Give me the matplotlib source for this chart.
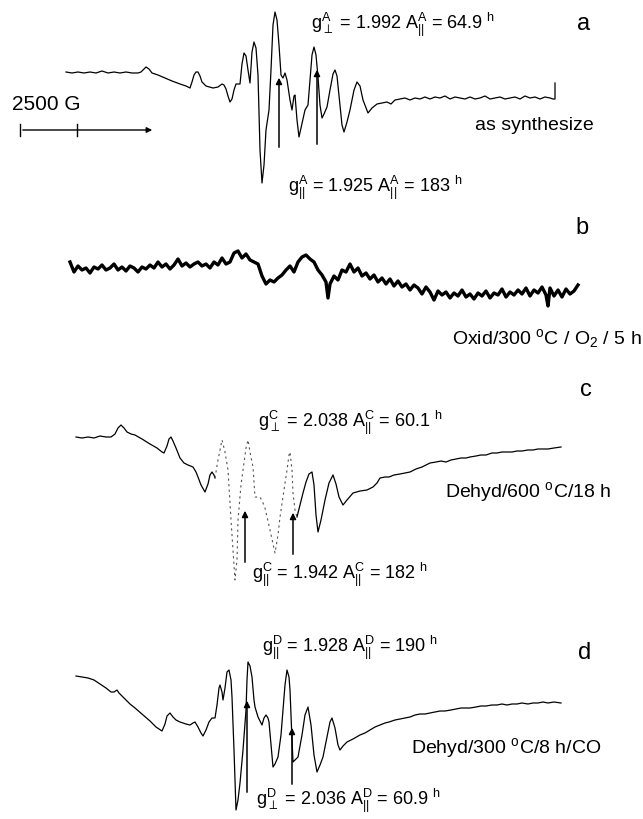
import matplotlib.pyplot as plt

plt.rcParams['font.family'] = ['Liberation Sans', 'DejaVu Sans']
plt.rcParams['mathtext.fontset'] = 'custom'
plt.rcParams['mathtext.rm'] = 'Liberation Sans'
plt.rcParams['mathtext.it'] = 'Liberation Sans'

# spectrum traces (field axis in scan px, signal in scan px, y down)
a_x = [66, 72, 78, 84, 90, 96, 102, 108, 114, 120, 126, 132, 138, 141, 143, 146, 149, 152, 158, 165,
       172, 180, 186, 190, 192, 194, 196, 198, 200, 202, 206, 213, 218, 222, 224, 226, 228, 230, 232, 234,
       236, 238, 240, 242, 244, 246, 248, 250, 252, 254, 256, 258, 260, 262, 264, 266, 269, 271, 273, 275,
       277, 279, 281, 283, 285, 287, 290, 292, 294, 295, 297, 299, 301, 305, 308, 310, 312, 314, 316, 318,
       320, 322, 324, 327, 330, 333, 335, 337, 340, 342, 344, 347, 350, 354, 357, 360, 363, 368, 372, 377,
       382, 387, 391, 395, 400, 405, 410, 415, 420, 425, 430, 435, 440, 445, 450, 455, 460, 465, 470, 475,
       480, 485, 490, 495, 500, 505, 510, 515, 520, 525, 530, 535, 540, 545, 550, 553, 555, 555]
a_y = [72, 73, 72, 73, 72, 73, 71, 73, 72, 73, 72, 73, 73, 72, 70, 67, 69, 73, 75, 78,
       81, 84, 86, 88, 82, 75, 72, 72, 76, 82, 86, 88, 87, 84, 85, 89, 96, 102, 99, 90,
       84, 84, 84, 64, 53, 56, 70, 83, 52, 42, 48, 75, 150, 183, 165, 130, 110, 70, 25, 12,
       20, 45, 75, 78, 73, 80, 100, 110, 96, 95, 120, 137, 128, 110, 105, 80, 55, 47, 55, 77,
       105, 118, 114, 107, 90, 74, 70, 76, 105, 125, 132, 122, 110, 90, 82, 86, 100, 113, 108, 104,
       103, 102, 104, 100, 99, 98, 100, 98, 99, 97, 99, 97, 98, 96, 99, 97, 98, 99, 97, 99,
       98, 96, 99, 98, 97, 99, 98, 97, 99, 96, 98, 97, 99, 97, 98, 99, 99, 83]

b_x = [70, 74, 78, 82, 86, 90, 94, 98, 102, 106, 110, 114, 118, 122, 126, 130, 134, 138, 142, 146,
       150, 154, 158, 162, 166, 170, 174, 178, 182, 186, 190, 194, 198, 202, 206, 210, 214, 218, 222, 226,
       230, 234, 238, 242, 246, 250, 254, 258, 262, 266, 270, 274, 278, 282, 286, 290, 294, 298, 302, 306,
       310, 314, 318, 322, 326, 328, 330, 334, 338, 342, 346, 350, 354, 358, 362, 366, 370, 374, 378, 382,
       386, 390, 394, 398, 402, 406, 410, 414, 418, 422, 426, 430, 434, 438, 442, 446, 450, 454, 458, 462,
       466, 470, 474, 478, 482, 486, 490, 494, 498, 502, 506, 510, 514, 518, 522, 526, 530, 534, 538, 542,
       546, 548, 550, 554, 558, 562, 566, 570, 574, 578]
b_y = [262, 272, 266, 270, 268, 273, 267, 269, 265, 270, 268, 264, 270, 267, 271, 266, 268, 272, 267, 269,
       265, 268, 262, 267, 264, 269, 265, 259, 266, 263, 267, 264, 262, 266, 264, 268, 262, 265, 258, 264,
       262, 253, 251, 258, 254, 260, 262, 264, 276, 284, 280, 282, 278, 275, 270, 266, 272, 262, 257, 255,
       259, 262, 270, 275, 282, 298, 284, 276, 280, 270, 272, 264, 272, 268, 276, 273, 279, 275, 282, 278,
       284, 279, 286, 281, 287, 284, 290, 285, 288, 294, 287, 292, 300, 291, 295, 292, 298, 293, 296, 290,
       297, 294, 299, 293, 296, 291, 298, 293, 295, 289, 297, 292, 295, 290, 294, 288, 296, 290, 293, 287,
       295, 306, 288, 296, 290, 297, 289, 294, 291, 285]

c_x = [76, 82, 88, 94, 100, 106, 111, 115, 118, 121, 124, 127, 131, 135, 142, 150, 157, 162, 164, 167,
       169, 171, 173, 176, 180, 184, 188, 193, 196, 198, 201, 205, 208, 210, 212, 214, 215]
c_y = [437, 438, 437, 438, 436, 437, 437, 434, 428, 425, 428, 432, 434, 435, 439, 444, 448, 452, 453, 446,
       439, 437, 441, 448, 458, 463, 465, 467, 472, 477, 485, 492, 484, 475, 472, 475, 478]
# faint, broken middle part of c
cm_x = [215, 218, 222, 225, 228, 231, 235, 237, 238, 241, 243, 246, 248, 250, 253, 255, 258, 260, 263, 265,
        270, 275, 278, 280, 284, 287, 289, 290, 292, 293, 295, 297]
cm_y = [478, 460, 440, 452, 470, 520, 580, 560, 520, 485, 470, 448, 440, 452, 467, 497, 497, 497, 503, 508,
        530, 553, 535, 517, 490, 470, 455, 452, 470, 493, 510, 517]
ct_x = [297, 300, 303, 306, 309, 312, 314, 316, 318, 321, 325, 329, 333, 336, 339, 343, 347, 353, 360, 367,
        373, 377, 380, 385, 389, 394, 400, 405, 410, 416, 422, 426, 430, 436, 441, 446, 451, 456, 461, 466,
        470, 476, 481, 486, 492, 497, 502, 507, 512, 517, 522, 528, 533, 538, 543, 548, 554, 561]
ct_y = [517, 505, 493, 482, 474, 472, 485, 515, 532, 520, 500, 483, 475, 484, 497, 505, 500, 493, 491, 490,
        487, 483, 478, 477, 477, 475, 474, 473, 472, 469, 467, 465, 463, 462, 461, 462, 460, 459, 458, 458,
        457, 456, 455, 455, 453, 453, 452, 452, 452, 451, 451, 450, 450, 449, 449, 449, 448, 447]

d_x = [76, 82, 88, 94, 100, 106, 111, 114, 117, 119, 124, 130, 135, 142, 150, 156, 162, 165, 167, 170,
       173, 176, 180, 186, 190, 193, 195, 198, 201, 203, 206, 209, 212, 215, 217, 219, 220, 222, 223, 225,
       227, 229, 231, 232, 234, 236, 238, 240, 243, 246, 247, 248, 250, 252, 254, 255, 258, 262, 264, 266,
       268, 269, 271, 273, 275, 278, 281, 283, 285, 287, 289, 290, 292, 293, 295, 298, 302, 305, 308, 311,
       314, 317, 320, 323, 327, 330, 332, 335, 338, 340, 343, 347, 353, 360, 365, 370, 375, 380, 385, 389,
       395, 400, 405, 410, 415, 420, 425, 430, 435, 440, 445, 451, 456, 461, 466, 470, 476, 481, 486, 492,
       497, 502, 507, 512, 517, 522, 528, 533, 538, 543, 548, 554, 561]
d_y = [676, 677, 678, 680, 684, 688, 692, 692, 690, 693, 698, 704, 708, 714, 721, 727, 731, 724, 716, 713,
       717, 720, 722, 724, 725, 723, 722, 727, 733, 736, 730, 722, 718, 718, 705, 688, 685, 692, 700, 688,
       672, 670, 680, 697, 750, 810, 800, 783, 750, 710, 680, 662, 666, 677, 700, 707, 717, 725, 718, 715,
       718, 722, 745, 767, 764, 757, 735, 710, 685, 670, 677, 690, 740, 762, 760, 757, 735, 715, 707, 725,
       755, 772, 765, 757, 737, 722, 718, 728, 745, 750, 746, 742, 739, 735, 733, 730, 727, 725, 723, 722,
       720, 719, 718, 717, 715, 714, 714, 713, 712, 711, 711, 710, 709, 708, 708, 708, 707, 706, 706, 705,
       705, 704, 705, 704, 704, 703, 704, 703, 703, 702, 703, 702, 703]

# arrows: (x, tail y, head y)
arrows = [(279, 150, 75), (317, 147, 67),
          (245, 565, 508), (293, 557, 510),
          (247, 795, 698), (292, 787, 725)]

fig = plt.figure(figsize=(6.43, 8.19), dpi=100)
ax = fig.add_axes([0, 0, 1, 1])
ax.set_xlim(0, 643)
ax.set_ylim(819, 0)
ax.axis('off')

ax.plot(a_x, a_y, color='black', lw=0.9, solid_joinstyle='round')
ax.plot(b_x, b_y, color='black', lw=2.4, solid_joinstyle='round')
ax.plot(c_x, c_y, color='black', lw=0.9, solid_joinstyle='round')
ax.plot(cm_x, cm_y, color='#555555', lw=0.8, linestyle=(0, (2, 3)))
ax.plot(ct_x, ct_y, color='black', lw=0.9, solid_joinstyle='round')
ax.plot(d_x, d_y, color='black', lw=0.9, solid_joinstyle='round')

for x, y0, y1 in arrows:
    ax.annotate('', xy=(x, y1), xytext=(x, y0),
                arrowprops=dict(arrowstyle='-|>', color='black', lw=1.1, mutation_scale=9))

# 2500 G scale bar
ax.annotate('', xy=(155, 130), xytext=(20, 130),
            arrowprops=dict(arrowstyle='-|>', color='black', lw=1.0, mutation_scale=8))
ax.plot([20, 20], [124, 136], color='black', lw=1.0)
ax.plot([77, 77], [124, 136], color='black', lw=1.0)
ax.text(12, 105, '2500 G', fontsize=15, va='center')

gs = 13
ax.text(311, 25, r'g$_{\perp}^{A}$ = 1.992 A$_{||}^{A}$ = 64.9 $^{h}$', fontsize=gs, va='center')
ax.text(288, 188, r'g$_{||}^{A}$ = 1.925 A$_{||}^{A}$ = 183 $^{h}$', fontsize=gs, va='center')
ax.text(258, 423, r'g$_{\perp}^{C}$ = 2.038 A$_{||}^{C}$ = 60.1 $^{h}$', fontsize=gs, va='center')
ax.text(252, 575, r'g$_{||}^{C}$ = 1.942 A$_{||}^{C}$ = 182 $^{h}$', fontsize=gs, va='center')
ax.text(262, 648, r'g$_{||}^{D}$ = 1.928 A$_{||}^{D}$ = 190 $^{h}$', fontsize=gs, va='center')
ax.text(256, 801, r'g$_{\perp}^{D}$ = 2.036 A$_{||}^{D}$ = 60.9 $^{h}$', fontsize=gs, va='center')

ls = 14
ax.text(475, 125, 'as synthesize', fontsize=ls, va='center')
ax.text(452, 338, r'Oxid/300 $^{o}$C / O$_{2}$ / 5 h', fontsize=ls, va='center')
ax.text(445, 492, r'Dehyd/600 $^{o}$C/18 h', fontsize=ls, va='center')
ax.text(411, 748, r'Dehyd/300 $^{o}$C/8 h/CO', fontsize=ls, va='center')

for lab, x, y in [('a', 577, 24), ('b', 575, 228), ('c', 580, 390), ('d', 578, 653)]:
    ax.text(x, y, lab, fontsize=17, va='center')

fig.savefig('out.png', dpi=100)
